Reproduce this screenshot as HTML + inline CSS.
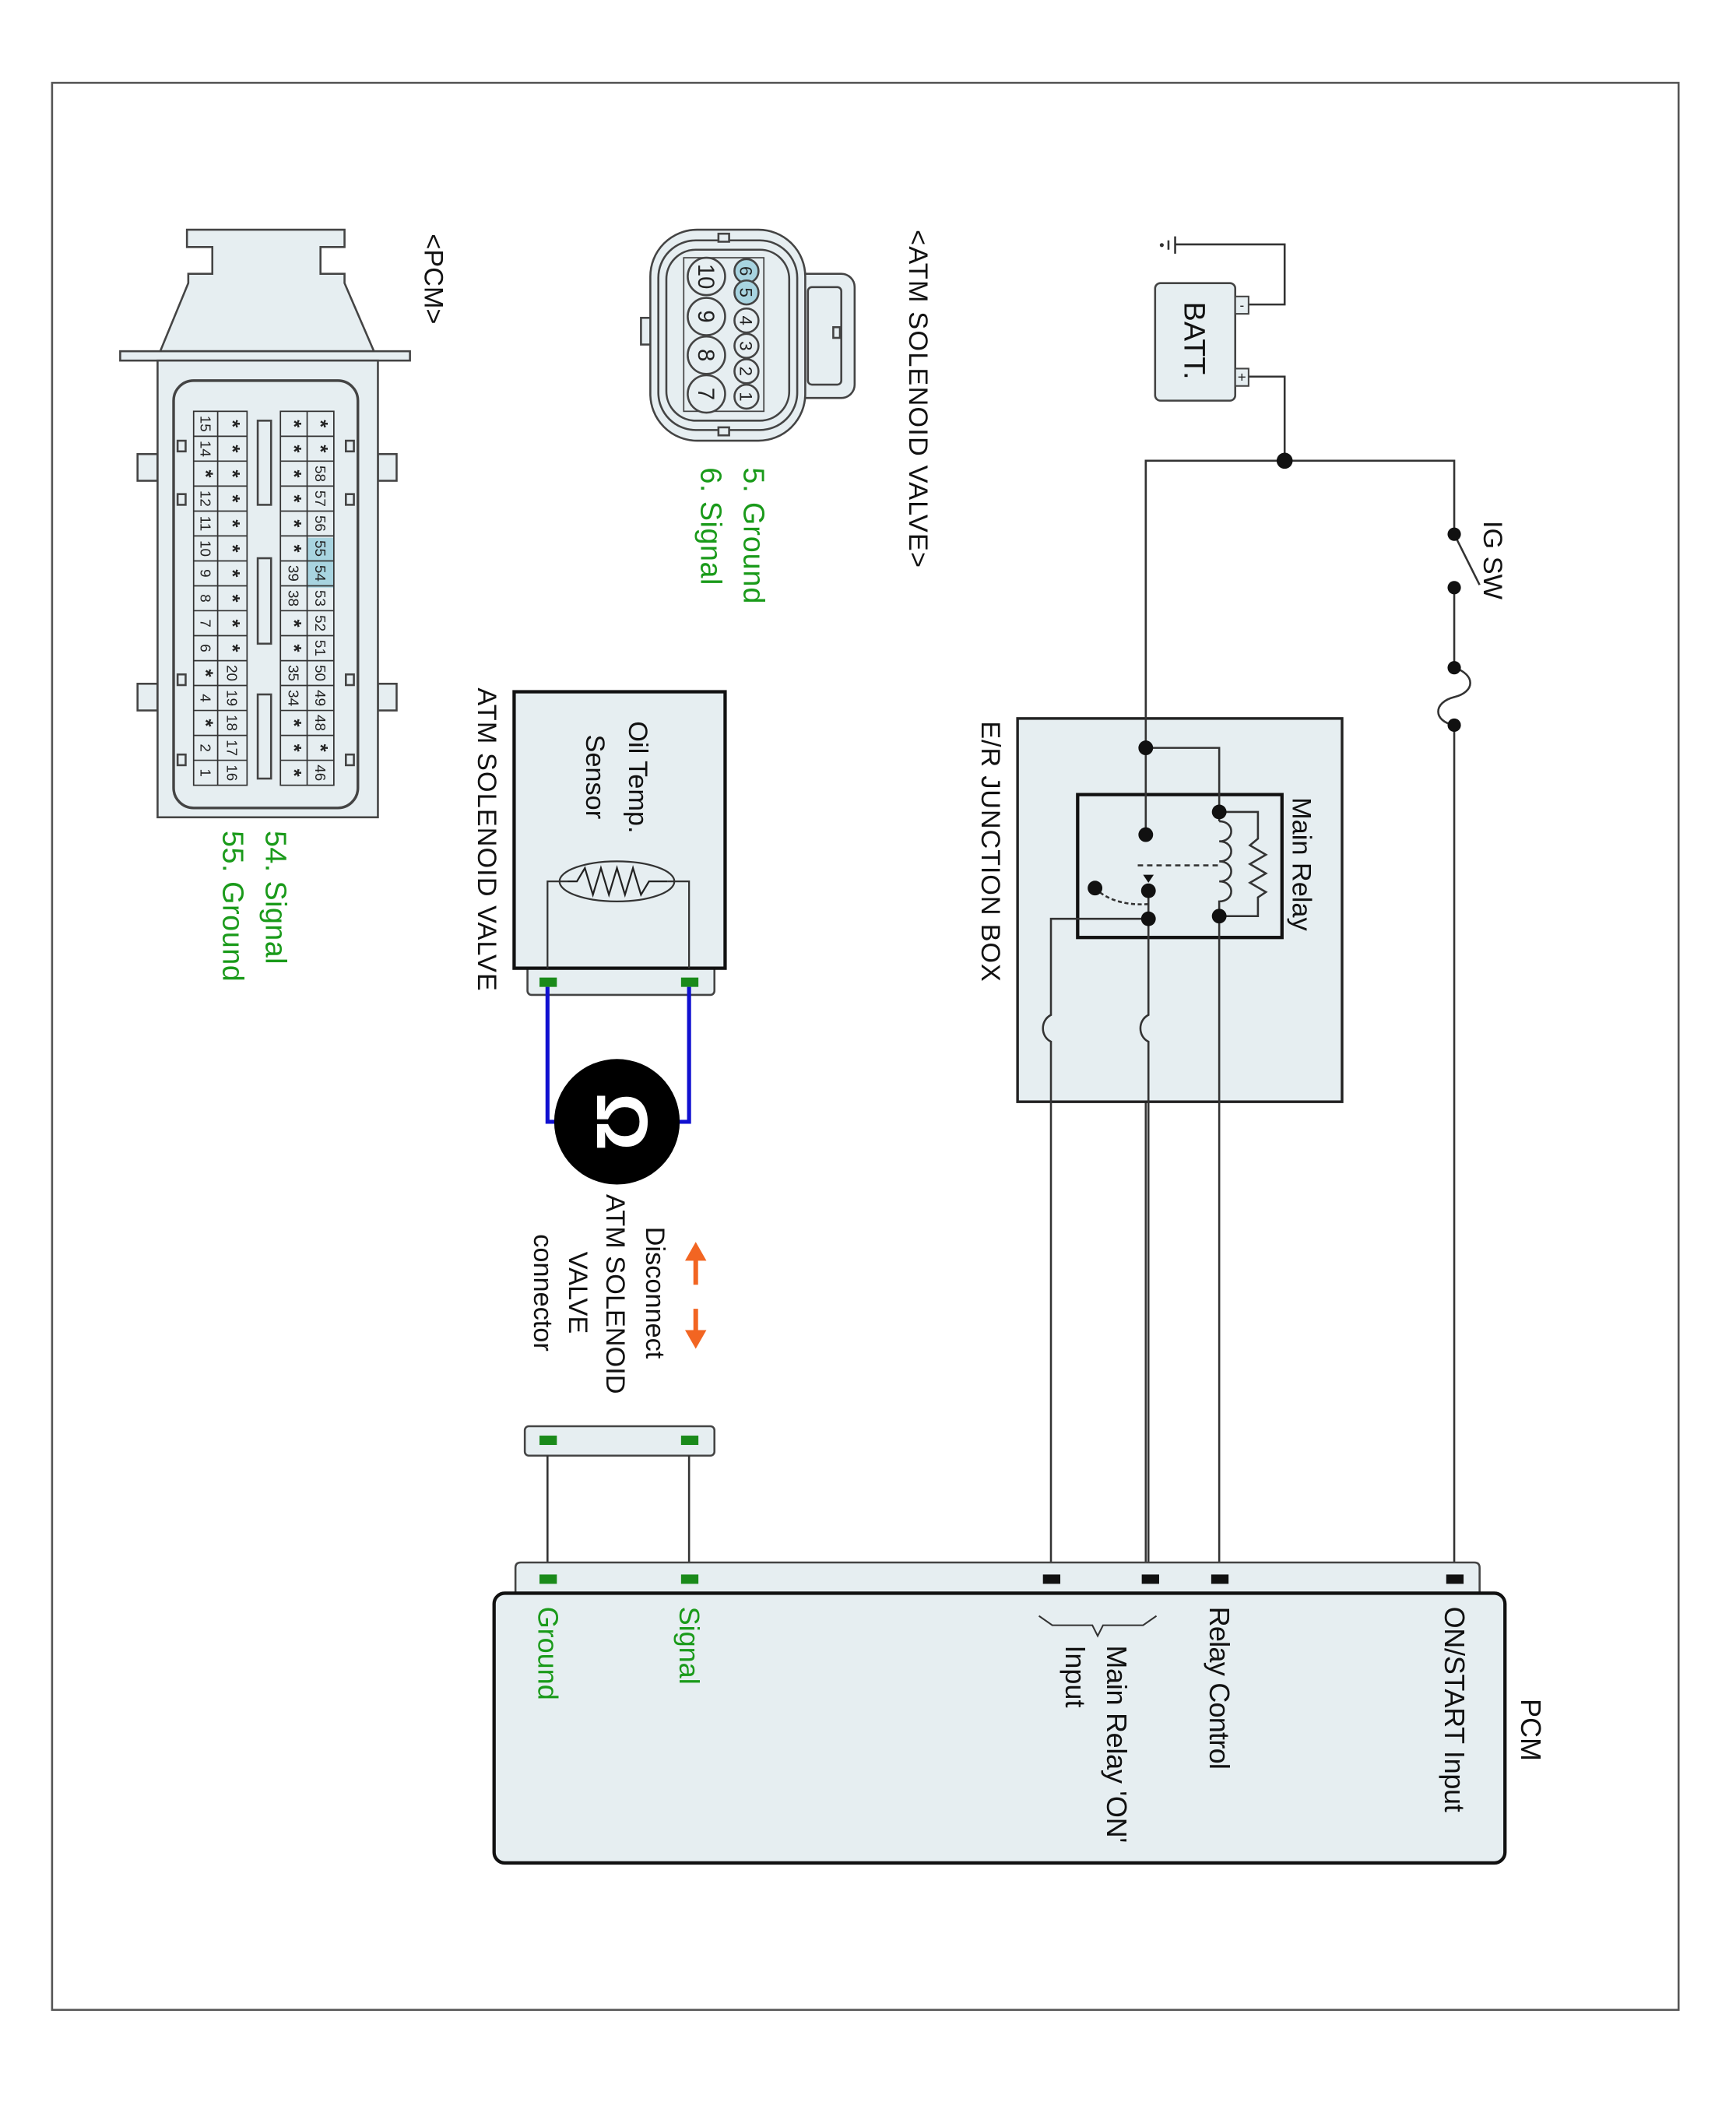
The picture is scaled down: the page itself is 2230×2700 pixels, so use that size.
<!DOCTYPE html>
<html><head><meta charset="utf-8"><style>
html,body{margin:0;padding:0;background:#fff}
svg{display:block}
text{font-family:"Liberation Sans",sans-serif}
.s{font-size:15px;font-weight:bold}
</style></head><body>
<svg width="2230" height="2700" viewBox="0 0 1300 1574" preserveAspectRatio="none" xmlns="http://www.w3.org/2000/svg">
<rect x="0" y="0" width="1300" height="1574" fill="#fff"/>
<rect x="39" y="62" width="1218" height="1443" fill="none" stroke="#555" stroke-width="1.5"/>

<!-- PCM connector -->
<g stroke="#444" stroke-width="1.5" fill="#e6eef1">
  <path d="M140,172 H258 V185 H240 V205 H258 V212 L280,263 H120 L141,212 V205 H159 V185 H140 Z"/>
  <rect x="90" y="263" width="217" height="7"/>
  <rect x="103" y="340" width="15" height="20"/><rect x="103" y="512" width="15" height="20"/>
  <rect x="283" y="340" width="14" height="20"/><rect x="283" y="512" width="14" height="20"/>
  <rect x="118" y="270" width="165" height="342"/>
  <rect x="130" y="285" width="138" height="320" rx="15" stroke-width="2"/>
  <rect x="133" y="330" width="6" height="8"/><rect x="133" y="370" width="6" height="8"/><rect x="133" y="505" width="6" height="8"/><rect x="133" y="565" width="6" height="8"/>
  <rect x="259" y="330" width="6" height="8"/><rect x="259" y="370" width="6" height="8"/><rect x="259" y="505" width="6" height="8"/><rect x="259" y="565" width="6" height="8"/>
  <rect x="193" y="315" width="10" height="63"/><rect x="193" y="418" width="10" height="64"/><rect x="193" y="520" width="10" height="63"/>
</g>
<rect x="230" y="402.7" width="20" height="37.3" fill="#a8d4e0"/>
<g stroke="#333" stroke-width="1" fill="none">
  <rect x="145" y="308" width="40" height="280"/><line x1="163" y1="308" x2="163" y2="588"/>
  <rect x="210" y="308" width="40" height="280"/><line x1="230" y1="308" x2="230" y2="588"/>
  <path d="M145,326.7H185M145,345.3H185M145,364H185M145,382.7H185M145,401.3H185M145,420H185M145,438.7H185M145,457.3H185M145,476H185M145,494.7H185M145,513.3H185M145,532H185M145,550.7H185M145,569.3H185"/>
  <path d="M210,326.7H250M210,345.3H250M210,364H250M210,382.7H250M210,401.3H250M210,420H250M210,438.7H250M210,457.3H250M210,476H250M210,494.7H250M210,513.3H250M210,532H250M210,550.7H250M210,569.3H250"/>
</g>
<g font-size="11" fill="#222" text-anchor="middle">
<g transform="translate(150,0)">
<text transform="translate(0,317.3) rotate(90)">15</text><text transform="translate(0,336) rotate(90)">14</text><text class="s" transform="translate(-1,354.7) rotate(90)">*</text><text transform="translate(0,373.3) rotate(90)">12</text><text transform="translate(0,392) rotate(90)">11</text><text transform="translate(0,410.7) rotate(90)">10</text><text transform="translate(0,429.3) rotate(90)">9</text><text transform="translate(0,448) rotate(90)">8</text><text transform="translate(0,466.7) rotate(90)">7</text><text transform="translate(0,485.3) rotate(90)">6</text><text class="s" transform="translate(-1,504) rotate(90)">*</text><text transform="translate(0,522.7) rotate(90)">4</text><text class="s" transform="translate(-1,541.3) rotate(90)">*</text><text transform="translate(0,560) rotate(90)">2</text><text transform="translate(0,578.7) rotate(90)">1</text>
</g>
<g transform="translate(170,0)">
<text class="s" transform="translate(-1,317.3) rotate(90)">*</text><text class="s" transform="translate(-1,336) rotate(90)">*</text><text class="s" transform="translate(-1,354.7) rotate(90)">*</text><text class="s" transform="translate(-1,373.3) rotate(90)">*</text><text class="s" transform="translate(-1,392) rotate(90)">*</text><text class="s" transform="translate(-1,410.7) rotate(90)">*</text><text class="s" transform="translate(-1,429.3) rotate(90)">*</text><text class="s" transform="translate(-1,448) rotate(90)">*</text><text class="s" transform="translate(-1,466.7) rotate(90)">*</text><text class="s" transform="translate(-1,485.3) rotate(90)">*</text><text transform="translate(0,504) rotate(90)">20</text><text transform="translate(0,522.7) rotate(90)">19</text><text transform="translate(0,541.3) rotate(90)">18</text><text transform="translate(0,560) rotate(90)">17</text><text transform="translate(0,578.7) rotate(90)">16</text>
</g>
<g transform="translate(216,0)">
<text class="s" transform="translate(-1,317.3) rotate(90)">*</text><text class="s" transform="translate(-1,336) rotate(90)">*</text><text class="s" transform="translate(-1,354.7) rotate(90)">*</text><text class="s" transform="translate(-1,373.3) rotate(90)">*</text><text class="s" transform="translate(-1,392) rotate(90)">*</text><text class="s" transform="translate(-1,410.7) rotate(90)">*</text><text transform="translate(0,429.3) rotate(90)">39</text><text transform="translate(0,448) rotate(90)">38</text><text class="s" transform="translate(-1,466.7) rotate(90)">*</text><text class="s" transform="translate(-1,485.3) rotate(90)">*</text><text transform="translate(0,504) rotate(90)">35</text><text transform="translate(0,522.7) rotate(90)">34</text><text class="s" transform="translate(-1,541.3) rotate(90)">*</text><text class="s" transform="translate(-1,560) rotate(90)">*</text><text class="s" transform="translate(-1,578.7) rotate(90)">*</text>
</g>
<g transform="translate(236,0)">
<text class="s" transform="translate(-1,317.3) rotate(90)">*</text><text class="s" transform="translate(-1,336) rotate(90)">*</text><text transform="translate(0,354.7) rotate(90)">58</text><text transform="translate(0,373.3) rotate(90)">57</text><text transform="translate(0,392) rotate(90)">56</text><text transform="translate(0,410.7) rotate(90)">55</text><text transform="translate(0,429.3) rotate(90)">54</text><text transform="translate(0,448) rotate(90)">53</text><text transform="translate(0,466.7) rotate(90)">52</text><text transform="translate(0,485.3) rotate(90)">51</text><text transform="translate(0,504) rotate(90)">50</text><text transform="translate(0,522.7) rotate(90)">49</text><text transform="translate(0,541.3) rotate(90)">48</text><text class="s" transform="translate(-1,560) rotate(90)">*</text><text transform="translate(0,578.7) rotate(90)">46</text>
</g>
</g>
<text transform="translate(318,175) rotate(90)" font-size="20" fill="#111">&lt;PCM&gt;</text>
<g font-size="22" fill="#1a9a1a">
<text transform="translate(199,622) rotate(90)" textLength="100">54. Signal</text>
<text transform="translate(167,622) rotate(90)" textLength="113">55. Ground</text>
<text transform="translate(557,350) rotate(90)" textLength="102">5. Ground</text>
<text transform="translate(525,350) rotate(90)" textLength="88">6. Signal</text>
</g>

<!-- ATM connector -->
<g stroke="#444" stroke-width="1.5" fill="#e6eef1">
  <rect x="480" y="238" width="10" height="20"/>
  <rect x="590" y="205" width="50" height="93" rx="10"/>
  <rect x="605" y="215" width="25" height="73" rx="3"/>
  <rect x="624" y="245" width="5" height="8"/>
  <rect x="487" y="172" width="116" height="158" rx="35"/>
  <rect x="493" y="180" width="104" height="142" rx="28"/>
  <rect x="499" y="187" width="92" height="128" rx="22"/>
  <rect x="538" y="175" width="8" height="6"/><rect x="538" y="320" width="8" height="6"/>
  <rect x="512" y="193" width="60" height="115" fill="none" stroke-width="1"/>
  <circle cx="529" cy="207" r="14"/><circle cx="529" cy="237" r="14"/><circle cx="529" cy="266" r="14"/><circle cx="529" cy="295" r="14"/>
  <circle cx="559" cy="203" r="9" fill="#a8d4e0"/><circle cx="559" cy="219" r="9" fill="#a8d4e0"/><circle cx="559" cy="240" r="9"/><circle cx="559" cy="259" r="9"/><circle cx="559" cy="278" r="9"/><circle cx="559" cy="297" r="9"/>
</g>
<g font-size="17" fill="#222" text-anchor="middle">
<text transform="translate(523,207) rotate(90)">10</text><text transform="translate(523,237) rotate(90)">9</text><text transform="translate(523,266) rotate(90)">8</text><text transform="translate(523,295) rotate(90)">7</text>
<g font-size="13"><text transform="translate(554,203) rotate(90)">6</text><text transform="translate(554,219) rotate(90)">5</text><text transform="translate(554,240) rotate(90)">4</text><text transform="translate(554,259) rotate(90)">3</text><text transform="translate(554,278) rotate(90)">2</text><text transform="translate(554,297) rotate(90)">1</text></g>
</g>
<text transform="translate(681,172) rotate(90)" font-size="20" fill="#111" textLength="253">&lt;ATM SOLENOID VALVE&gt;</text>

<!-- Battery & power -->
<g stroke="#333" stroke-width="1.5" fill="none">
  <path d="M935,228 H962 V183 H880"/>
  <path d="M880,177 V190 M875,180 V187"/>
  <path d="M935,282 H962 V345"/>
  <path d="M858,1182 V345 H1089 V400"/>
  <path d="M1089,400 L1108,438"/>
  <path d="M1089,440 V500"/>
  <path d="M1089,500 C1105,505 1105,518 1089,522 C1073,526 1073,540 1089,543"/>
  <path d="M1089,543 V1182"/>
</g>
<circle cx="870" cy="183.5" r="1.5" fill="#333"/>
<rect x="865" y="212" width="60" height="88" rx="4" fill="#e6eef1" stroke="#444" stroke-width="1.5"/>
<rect x="925" y="222" width="10" height="13" fill="#e6eef1" stroke="#444" stroke-width="1.2"/>
<rect x="925" y="276" width="10" height="13" fill="#e6eef1" stroke="#444" stroke-width="1.2"/>
<text x="930" y="232" font-size="10" text-anchor="middle" fill="#222">-</text>
<text x="930" y="286" font-size="11" text-anchor="middle" fill="#222">+</text>
<text transform="translate(887,226) rotate(90)" font-size="22" fill="#111">BATT.</text>
<g fill="#111"><circle cx="962" cy="345" r="6"/><circle cx="1089" cy="400" r="5"/><circle cx="1089" cy="440" r="5"/><circle cx="1089" cy="500" r="5"/><circle cx="1089" cy="543" r="5"/></g>
<text transform="translate(1111,390) rotate(90)" font-size="20" fill="#111">IG SW</text>

<!-- E/R junction box -->
<rect x="762" y="538" width="243" height="287" fill="#e6eef1" stroke="#222" stroke-width="2"/>
<rect x="807" y="595" width="153" height="107" fill="#e6eef1" stroke="#111" stroke-width="2.5"/>
<g stroke="#333" stroke-width="1.5" fill="none">
  <path d="M858,345 V628"/>
  <path d="M860,662 V760 C852,764 852,776 860,780 V1182" />
  <path d="M858,560 H913 V615"/>
  <path d="M913,608 H942 V628 L936,633 L948,640 L936,647 L948,654 L936,661 L948,668 L942,672 V686 H913"/>
  <path d="M913,615 C925,615 925,630 913,630 C925,630 925,645 913,645 C925,645 925,660 913,660 C925,660 925,675 913,675 V1182"/>
  <path d="M860,688 H787 V760 C779,764 779,776 787,780 V1182"/>
  <path d="M852,648 H913" stroke-dasharray="4,3"/>
  <path d="M820,665 C830,675 845,678 860,677" stroke-dasharray="3,2"/>
</g>
<path d="M856,655 L864,655 L860,661 Z" fill="#111"/>
<g fill="#111"><circle cx="858" cy="560" r="5.5"/><circle cx="913" cy="608" r="5.5"/><circle cx="913" cy="686" r="5.5"/><circle cx="858" cy="625" r="5.5"/><circle cx="860" cy="667" r="5.5"/><circle cx="860" cy="688" r="5.5"/><circle cx="820" cy="665" r="5.5"/></g>
<text transform="translate(968,597) rotate(90)" font-size="20" fill="#111" textLength="100">Main Relay</text>
<text transform="translate(735,540) rotate(90)" font-size="20" fill="#111" textLength="195">E/R JUNCTION BOX</text>

<!-- Oil temp sensor / solenoid -->
<rect x="395" y="722" width="140" height="23" rx="3" fill="#e6eef1" stroke="#444" stroke-width="1.5"/>
<rect x="385" y="518" width="158" height="207" fill="#e6eef1" stroke="#111" stroke-width="2.5"/>
<g stroke="#333" stroke-width="1.3" fill="none">
  <path d="M410,725 V660 H425 M516,725 V660 H500"/>
  <ellipse cx="462" cy="660" rx="43" ry="15"/>
  <path d="M425,660 L432,660 L438,650 L444,670 L450,650 L456,670 L462,650 L468,670 L474,650 L480,670 L486,660 L500,660" stroke="#222"/>
</g>
<text transform="translate(471,540) rotate(90)" font-size="20" fill="#111">Oil Temp.</text>
<text transform="translate(439,550) rotate(90)" font-size="20" fill="#111">Sensor</text>
<text transform="translate(358,515) rotate(90)" font-size="20" fill="#111" textLength="227">ATM SOLENOID VALVE</text>
<rect x="404" y="732" width="13" height="7" fill="#1a8a1a"/><rect x="510" y="732" width="13" height="7" fill="#1a8a1a"/>
<path d="M410,739 V840 H418 M516,739 V840 H508" stroke="#1010d0" stroke-width="3" fill="none"/>
<circle cx="462" cy="840" r="47" fill="#000"/>
<text transform="translate(447,840) rotate(90)" font-size="54" font-weight="bold" fill="#fff" text-anchor="middle">Ω</text>

<!-- disconnect -->
<g stroke="#f26522" stroke-width="3.5" fill="#f26522">
  <line x1="521" y1="940" x2="521" y2="962"/>
  <path d="M513,944 L521,930 L529,944 Z" stroke="none"/>
  <line x1="521" y1="980" x2="521" y2="1000"/>
  <path d="M513,996 L521,1010 L529,996 Z" stroke="none"/>
</g>
<g font-size="20" fill="#111" text-anchor="middle">
<text transform="translate(484,968) rotate(90)">Disconnect</text>
<text transform="translate(454,969) rotate(90)">ATM SOLENOID</text>
<text transform="translate(426,968) rotate(90)">VALVE</text>
<text transform="translate(400,968) rotate(90)">connector</text>
</g>
<rect x="393" y="1068" width="142" height="22" rx="3" fill="#e6eef1" stroke="#444" stroke-width="1.5"/>
<rect x="404" y="1075" width="13" height="7" fill="#1a8a1a"/><rect x="510" y="1075" width="13" height="7" fill="#1a8a1a"/>
<path d="M410,1090 V1182 M516,1090 V1182" stroke="#333" stroke-width="1.5"/>

<!-- PCM box -->
<path d="M386,1193 V1174 Q386,1170 390,1170 H1104 Q1108,1170 1108,1174 V1193" fill="#e6eef1" stroke="#444" stroke-width="1.5"/>
<rect x="370" y="1193" width="757" height="202" rx="8" fill="#e6eef1" stroke="#111" stroke-width="2.5"/>
<rect x="404" y="1179" width="13" height="7" fill="#1a8a1a"/><rect x="510" y="1179" width="13" height="7" fill="#1a8a1a"/>
<g fill="#111"><rect x="781" y="1179" width="13" height="7"/><rect x="855" y="1179" width="13" height="7"/><rect x="907" y="1179" width="13" height="7"/><rect x="1083" y="1179" width="13" height="7"/></g>
<g font-size="21" fill="#1a9a1a">
<text transform="translate(403,1203) rotate(90)">Ground</text>
<text transform="translate(509,1203) rotate(90)">Signal</text>
</g>
<g font-size="21" fill="#111">
<text transform="translate(906,1203) rotate(90)" textLength="122">Relay Control</text>
<text transform="translate(1082,1203) rotate(90)" textLength="154">ON/START Input</text>
<text transform="translate(1139,1272) rotate(90)">PCM</text>
<text transform="translate(829,1232) rotate(90)" textLength="148">Main Relay 'ON'</text>
<text transform="translate(798,1232) rotate(90)">Input</text>
</g>
<path d="M778,1210 L788,1217 H818 L822,1225 L826,1217 H856 L866,1210" fill="none" stroke="#333" stroke-width="1.2"/>
</svg>
</body></html>
